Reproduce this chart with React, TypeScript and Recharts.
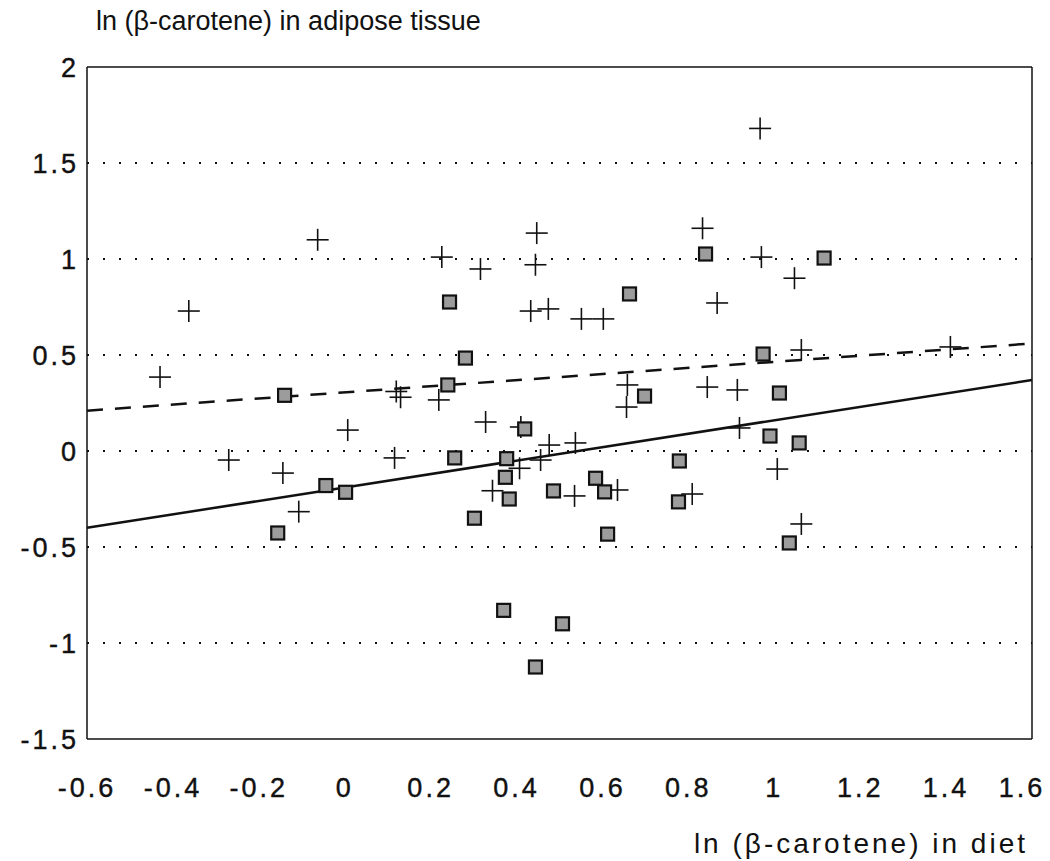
import React from "react";
import {
  ScatterChart,
  Scatter,
  XAxis,
  YAxis,
  ZAxis,
  ReferenceLine,
} from "recharts";

// ln(beta-carotene) diet (x) vs adipose tissue (y)
const crossPoints = [
  { x: 0.967, y: 1.68 }, { x: 0.833, y: 1.16 }, { x: 0.447, y: 1.135 },
  { x: -0.063, y: 1.1 }, { x: 0.226, y: 1.01 }, { x: 0.97, y: 1.01 },
  { x: 0.444, y: 0.97 }, { x: 0.316, y: 0.948 }, { x: 1.047, y: 0.9 },
  { x: 0.867, y: 0.771 }, { x: 0.474, y: 0.74 }, { x: 0.433, y: 0.729 },
  { x: -0.363, y: 0.729 }, { x: 0.551, y: 0.688 }, { x: 0.602, y: 0.688 },
  { x: 1.41, y: 0.542 }, { x: 1.063, y: 0.526 }, { x: -0.43, y: 0.385 },
  { x: 0.658, y: 0.344 }, { x: 0.844, y: 0.333 }, { x: 0.914, y: 0.318 },
  { x: 0.12, y: 0.31 }, { x: 0.13, y: 0.28 }, { x: 0.219, y: 0.266 },
  { x: 0.656, y: 0.229 }, { x: 0.328, y: 0.151 }, { x: 0.919, y: 0.12 },
  { x: 0.41, y: 0.125 }, { x: 0.007, y: 0.109 }, { x: 0.537, y: 0.042 },
  { x: 0.476, y: 0.031 }, { x: 0.116, y: -0.036 }, { x: -0.27, y: -0.047 },
  { x: 0.456, y: -0.047 }, { x: 0.407, y: -0.09 }, { x: 1.007, y: -0.094 },
  { x: -0.144, y: -0.115 }, { x: 0.635, y: -0.203 }, { x: 0.344, y: -0.207 },
  { x: 0.809, y: -0.224 }, { x: 0.535, y: -0.234 }, { x: -0.107, y: -0.316 },
  { x: 1.063, y: -0.38 },
];

const squarePoints = [
  { x: 0.84, y: 1.026 }, { x: 1.116, y: 1.005 }, { x: 0.663, y: 0.818 },
  { x: 0.244, y: 0.776 }, { x: 0.281, y: 0.484 }, { x: 0.974, y: 0.505 },
  { x: 0.24, y: 0.344 }, { x: -0.14, y: 0.29 }, { x: 1.012, y: 0.302 },
  { x: 0.698, y: 0.286 }, { x: 0.419, y: 0.115 }, { x: 0.99, y: 0.078 },
  { x: 1.058, y: 0.042 }, { x: 0.256, y: -0.036 }, { x: 0.377, y: -0.04 },
  { x: 0.779, y: -0.052 }, { x: 0.374, y: -0.137 }, { x: 0.584, y: -0.142 },
  { x: -0.044, y: -0.18 }, { x: 0.486, y: -0.208 }, { x: 0.605, y: -0.213 },
  { x: 0.002, y: -0.215 }, { x: 0.383, y: -0.25 }, { x: 0.777, y: -0.265 },
  { x: 0.302, y: -0.35 }, { x: -0.156, y: -0.427 }, { x: 0.612, y: -0.433 },
  { x: 1.035, y: -0.479 }, { x: 0.37, y: -0.83 }, { x: 0.507, y: -0.9 },
  { x: 0.444, y: -1.125 },
];

// regression lines (end points at the plot edges)
const solidFit = [{ x: -0.6, y: -0.4 }, { x: 1.6, y: 0.37 }];
const dashedFit = [{ x: -0.6, y: 0.21 }, { x: 1.6, y: 0.56 }];

const xTicks = [-0.6, -0.4, -0.2, 0, 0.2, 0.4, 0.6, 0.8, 1, 1.2, 1.4, 1.6];
const yTicks = [-1.5, -1, -0.5, 0, 0.5, 1, 1.5, 2];
const gridValues = [-1, -0.5, 0, 0.5, 1, 1.5];

const FONT = "'Liberation Sans', Arial, sans-serif";

const Cross = (props: any) => {
  const { cx, cy } = props;
  return (
    <g>
      <line x1={cx - 11} x2={cx + 11} y1={cy} y2={cy} stroke="#111" strokeWidth={1.6} />
      <line x1={cx} x2={cx} y1={cy - 11} y2={cy + 11} stroke="#111" strokeWidth={1.6} />
    </g>
  );
};

const Square = (props: any) => {
  const { cx, cy } = props;
  return (
    <rect x={cx - 6.5} y={cy - 6.5} width={13} height={13} fill="#9c9c9c" stroke="#111" strokeWidth={2.2} />
  );
};

const tickStyle = { letterSpacing: "3px", stroke: "#111", strokeWidth: 0.4 };

const XTick = (props: any) => {
  const { x, payload } = props;
  return (
    <text x={Math.min(x, 1022)} y={797} textAnchor="middle" fontFamily={FONT} fontSize={27} fill="#111" style={tickStyle}>
      {String(payload.value)}
    </text>
  );
};

const YTick = (props: any) => {
  const { y, payload } = props;
  return (
    <text x={79} y={y + 10} textAnchor="end" fontFamily={FONT} fontSize={27} fill="#111" style={tickStyle}>
      {String(payload.value)}
    </text>
  );
};

export default function App() {
  return (
    <div style={{ position: "absolute", left: 0, top: 0, width: 1050, height: 861, background: "#fff" }}>
      <ScatterChart width={1050} height={861} margin={{ top: 67, right: 18, bottom: 62, left: 7 }}>
        <XAxis
          type="number"
          dataKey="x"
          domain={[-0.6, 1.6]}
          ticks={xTicks}
          interval={0}
          height={60}
          tickLine={false}
          axisLine={{ stroke: "#111", strokeWidth: 1.5 }}
          tick={<XTick />}
          allowDataOverflow
        />
        <YAxis
          type="number"
          dataKey="y"
          domain={[-1.5, 2]}
          ticks={yTicks}
          interval={0}
          width={80}
          tickLine={false}
          axisLine={{ stroke: "#111", strokeWidth: 1.5 }}
          tick={<YTick />}
          allowDataOverflow
        />
        <ZAxis range={[100, 100]} />
        {gridValues.map((v) => (
          <ReferenceLine key={v} y={v} stroke="#111" strokeWidth={2} strokeDasharray="2 14" />
        ))}
        <ReferenceLine y={2} stroke="#111" strokeWidth={1.5} />
        <ReferenceLine x={1.6} stroke="#111" strokeWidth={1.5} />
        <ReferenceLine
          segment={[solidFit[0], solidFit[1]]}
          stroke="#111"
          strokeWidth={2.5}
        />
        <ReferenceLine
          segment={[dashedFit[0], dashedFit[1]]}
          stroke="#111"
          strokeWidth={2.5}
          strokeDasharray="16 12"
        />
        <Scatter data={crossPoints} shape={<Cross />} isAnimationActive={false} />
        <Scatter data={squarePoints} shape={<Square />} isAnimationActive={false} />
        <text x={96} y={30} fontFamily={FONT} fontSize={27} fill="#111">
          ln (β-carotene) in adipose tissue
        </text>
        <text x={1028} y={853} textAnchor="end" fontFamily={FONT} fontSize={28} fill="#111" style={{ letterSpacing: "3px" }}>
          ln (β-carotene) in diet
        </text>
      </ScatterChart>
    </div>
  );
}
